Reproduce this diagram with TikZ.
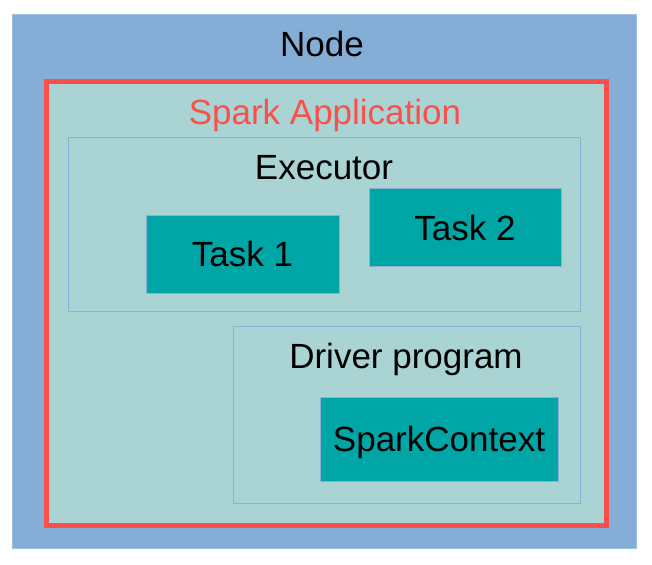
\documentclass[tikz,border=0pt]{standalone}
\usepackage{fontspec}
\setmainfont{Liberation Sans}
\usetikzlibrary{positioning}
\definecolor{hostblue}{RGB}{133,174,214}
\definecolor{hostedge}{RGB}{160,192,226}
\definecolor{appfill}{RGB}{169,212,211}
\definecolor{appred}{RGB}{250,80,75}
\definecolor{boxedge}{RGB}{138,176,216}
\definecolor{taskteal}{RGB}{0,166,166}
\tikzset{
	hostbox/.style={
		rectangle,
		fill=hostblue,
		draw=hostedge, line width=0.8pt,
		inner sep=0pt},
	appbox/.style={
		rectangle,
		fill=appfill,
		draw=appred, line width=5pt,
		inner sep=0pt},
	groupbox/.style={
		rectangle,
		draw=boxedge, line width=1pt,
		inner sep=0pt},
	taskbox/.style={
		rectangle,
		fill=taskteal,
		draw=boxedge, line width=1pt,
		font=\fontsize{35}{42}\selectfont,
		text depth=0pt,
		inner sep=0pt},
	caption/.style={
		anchor=base,
		inner sep=0pt,
		font=\fontsize{35}{42}\selectfont},
}

\begin{document}
\begin{tikzpicture}
			[x=1pt,y=-1pt]
			\useasboundingbox (0,0) rectangle (652,564);
			% outer node
			\node[hostbox, minimum width=624pt, minimum height=534pt] (host) at (324,281) {};
			\node[caption] (hosttitle) at (322,57) {Node};
			% application
			\node[appbox, minimum width=560.5pt, minimum height=443.5pt] (app) at (326.25,303.75) {};
			\node[caption, text=appred] (apptitle) at (325,125) {Spark Application};
			% executor with its tasks
			\node[groupbox, minimum width=512pt, minimum height=173pt] (exec) at (324,224.5) {};
			\node[caption] (exectitle) at (324,179) {Executor};
			\node[taskbox, minimum width=193pt, minimum height=78pt] (taskone) at (242.5,254) {Task 1};
			\node[taskbox, minimum width=192pt, minimum height=78pt] (tasktwo) at (465,227.5) {Task 2};
			% driver
			\node[groupbox, minimum width=347pt, minimum height=177pt] (driver) at (406.5,414.5) {};
			\node[caption] (drivertitle) at (406,368) {Driver program};
			\node[taskbox, minimum width=238pt, minimum height=84pt] (context) at (439,439) {SparkContext};
\end{tikzpicture}
\end{document}
